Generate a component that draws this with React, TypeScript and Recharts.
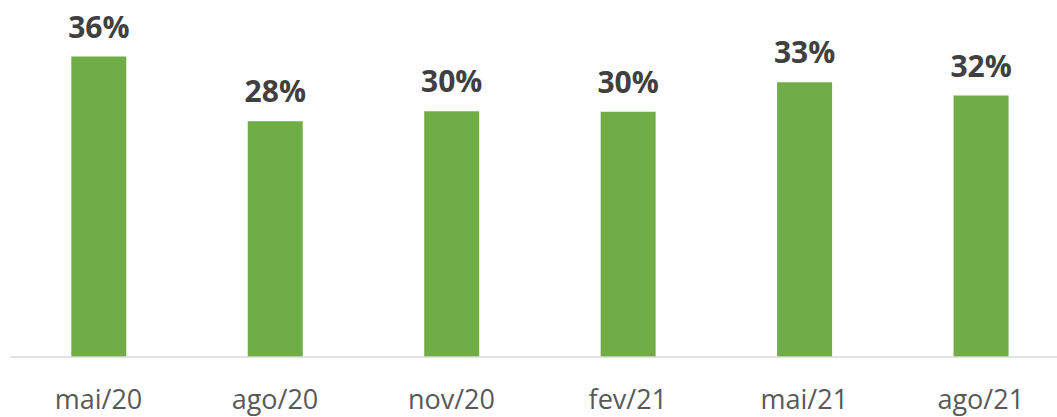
import React from "react";
import { BarChart, Bar, XAxis, YAxis, LabelList } from "recharts";

const categories = ["mai/20", "ago/20", "nov/20", "fev/21", "mai/21", "ago/21"];
const values = [36.2, 28.4, 29.6, 29.55, 33.1, 31.5];

const data = categories.map((c, i) => ({ name: c, value: values[i] }));

const renderLabel = (props: any) => {
  const { x, y, width, value } = props;
  return (
    <text
      x={Number(x) + Number(width) / 2}
      y={Number(y) - 19}
      textAnchor="middle"
      fill="#404040"
      fontFamily="'Open Sans', sans-serif"
      fontWeight={700}
      fontSize={30}
    >
      {Math.round(Number(value))}%
    </text>
  );
};

const renderTick = (props: any) => {
  const { x, payload } = props;
  return (
    <text
      x={x}
      y={409}
      textAnchor="middle"
      fill="#595959"
      fontFamily="'Open Sans', sans-serif"
      fontSize={27}
    >
      {payload.value}
    </text>
  );
};

export default function App() {
  return (
    <div
      style={{
        position: "absolute",
        left: 0,
        top: 0,
        width: 1057,
        height: 417,
        overflow: "hidden",
        background: "#fff",
      }}
    >
      <BarChart
        width={1069}
        height={417}
        data={data}
        margin={{ top: 8.4, right: 0, bottom: 0, left: 10.3 }}
        barSize={55}
      >
        <YAxis hide domain={[0, 42]} type="number" />
        <XAxis
          dataKey="name"
          height={60}
          tickLine={false}
          axisLine={{ stroke: "#d9d9d9", strokeWidth: 1.5 }}
          tick={renderTick}
          interval={0}
        />
        <Bar dataKey="value" fill="#70AD47" isAnimationActive={false}>
          <LabelList dataKey="value" content={renderLabel} />
        </Bar>
      </BarChart>
    </div>
  );
}
